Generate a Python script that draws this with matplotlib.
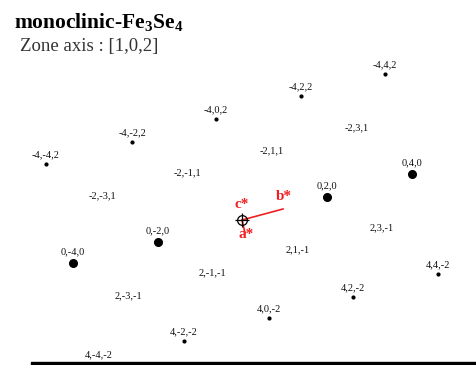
import matplotlib
matplotlib.use("Agg")
import matplotlib.pyplot as plt

plt.rcParams['mathtext.fontset'] = 'custom'
plt.rcParams['mathtext.rm'] = 'Liberation Serif'
plt.rcParams['mathtext.bf'] = 'Liberation Serif:bold'

# Diffraction spots: index label, position (pixels in the pattern), spot kind
labels = ["-4,4,2", "-4,2,2", "-4,0,2", "-4,-2,2", "-4,-4,2",
          "-2,3,1", "-2,1,1", "-2,-1,1", "-2,-3,1",
          "0,4,0", "0,2,0", "0,-2,0", "0,-4,0",
          "2,3,-1", "2,1,-1", "2,-1,-1", "2,-3,-1",
          "4,4,-2", "4,2,-2", "4,0,-2", "4,-2,-2", "4,-4,-2"]
spot_x = [385, 301, 216, 132, 46,
          357, 272, 187, 102,
          412, 327, 158, 73,
          382, 298, 212, 128,
          438, 353, 269, 184, 99]
spot_y = [74, 96, 119, 142, 164,
          128, 151, 173, 196,
          174, 197, 242, 263,
          228, 250, 273, 296,
          274, 297, 318, 341, 364]
# 0 = no visible spot, 1 = weak spot, 2 = strong spot
kind = [1, 1, 1, 1, 1,
        0, 0, 0, 0,
        2, 2, 2, 2,
        0, 0, 0, 0,
        1, 1, 1, 1, 1]

origin = (242, 220)
b_end = (283, 209)
a_end = (245, 233)
red = '#f02020'

fig = plt.figure(figsize=(4.76, 3.65), dpi=100)
ax = fig.add_axes([0, 0, 1, 1])
ax.set_xlim(0, 476)
ax.set_ylim(365, 0)
ax.axis('off')

for lab, x, y, k in zip(labels, spot_x, spot_y, kind):
    if k == 2:
        ax.plot(x, y, 'o', color='black', markersize=5.5)
        ax.text(x, y - 11, lab, ha='center', va='center', fontsize=7.5,
                family='Liberation Serif', color='#111111')
    elif k == 1:
        ax.plot(x, y, 'o', color='black', markersize=2)
        ax.text(x, y - 9, lab, ha='center', va='center', fontsize=7.5,
                family='Liberation Serif', color='#111111')
    else:
        ax.text(x, y, lab, ha='center', va='center', fontsize=7.5,
                family='Liberation Serif', color='#111111')

# reciprocal axes
ax.plot([origin[0], b_end[0]], [origin[1], b_end[1]], color=red, lw=1.2)
ax.plot([origin[0], a_end[0]], [origin[1], a_end[1]], color=red, lw=1.2)
ax.plot(*origin, 'o', mfc='none', mec='black', markersize=7, mew=0.9)
ax.plot(*origin, '+', color='black', markersize=10, mew=0.9)
ax.text(284, 197, "b*", color=red, fontsize=11, fontweight='bold',
        family='Liberation Serif', ha='center', va='center')
ax.text(242, 204, "c*", color=red, fontsize=11, fontweight='bold',
        family='Liberation Serif', ha='center', va='center')
ax.text(246, 235, "a*", color=red, fontsize=11, fontweight='bold',
        family='Liberation Serif', ha='center', va='center')

# titles
ax.text(14, 28, r"monoclinic-Fe$_\mathbf{3}$Se$_\mathbf{4}$", fontsize=15.5,
        fontweight='bold', family='Liberation Serif', va='baseline')
ax.text(20, 51, "Zone axis : [1,0,2]", fontsize=13.5, color='#333333',
        family='Liberation Serif', va='baseline')

# bottom bar
ax.fill_between([31, 476], 361.5, 366, color='black', zorder=5)

fig.savefig("out.png", dpi=100)
